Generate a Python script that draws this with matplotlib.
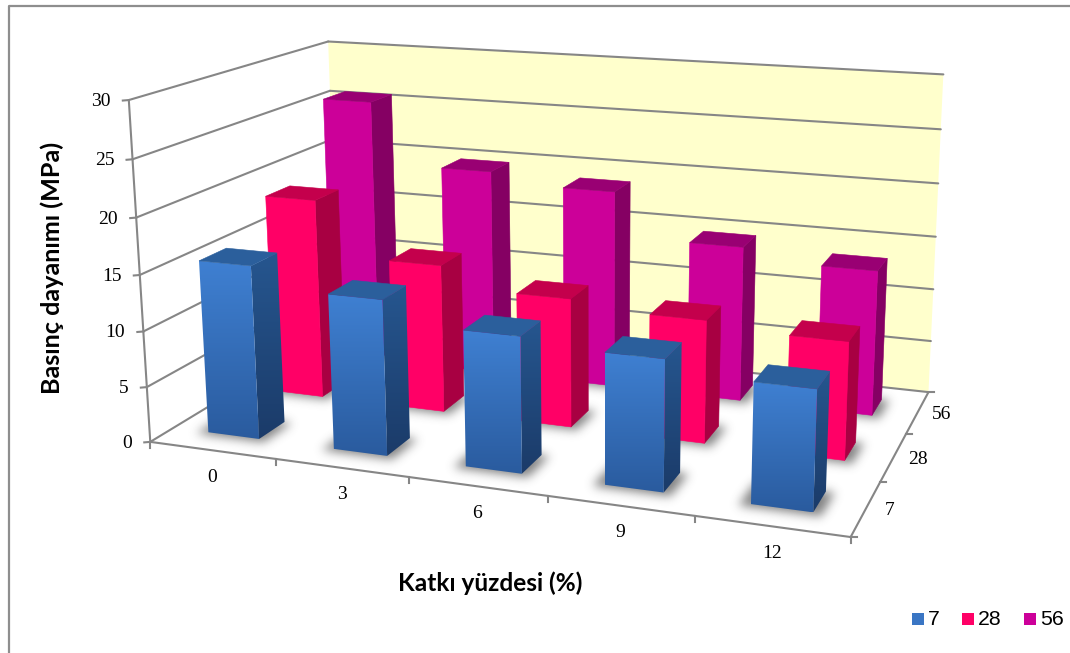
import numpy as np
import matplotlib
matplotlib.use("Agg")
import matplotlib.pyplot as plt
from matplotlib.colors import LinearSegmentedColormap, to_rgb
from matplotlib.patches import Polygon, Rectangle
from matplotlib.path import Path

# Chart data
additive_pct = ["0", "3", "6", "9", "12"]
curing_days = ["7", "28", "56"]
strength_7 = [15.6, 13.8, 11.9, 11.3, 10.2]
strength_28 = [18.7, 13.7, 11.8, 11.1, 10.5]
strength_56 = [25.7, 19.8, 18.8, 14.6, 13.5]
z_ticks = [0, 5, 10, 15, 20, 25, 30]

W, H = 1070, 653
N_X, N_Y, Z_MAX = len(additive_pct), len(curing_days), z_ticks[-1]
BAR_W, BAR_D = 0.41, 0.385
X_CENTRE, Y_CENTRE = 0.49, 0.51

# Perspective camera: solved from where the box corners and axis ticks sit on the canvas
box_world = np.array([
    [0, 0, 0], [1, 0, 0], [2, 0, 0], [3, 0, 0], [4, 0, 0], [5, 0, 0],
    [5, 1, 0], [5, 2, 0], [5, 3, 0], [0, 3, 0],
    [0, 0, 30], [0, 0, 15], [0, 3, 30], [5, 3, 30], [5, 3, 15],
], float)
box_canvas = np.array([
    [150, 443], [276, 461], [408, 478], [548, 497], [695, 516], [849, 534],
    [882, 481], [907, 434], [927, 394], [340, 325],
    [131, 99], [139, 274], [326, 43], [944, 74], [936, 237],
], float)


def solve_camera(world, canvas):
    rows, rhs = [], []
    for (x, y, z), (u, v) in zip(world, canvas):
        rows.append([x, y, z, 1, 0, 0, 0, 0, -u * x, -u * y, -u * z])
        rows.append([0, 0, 0, 0, x, y, z, 1, -v * x, -v * y, -v * z])
        rhs += [u, v]
    sol = np.linalg.lstsq(np.array(rows), np.array(rhs), rcond=None)[0]
    return np.append(sol, 1.0).reshape(3, 4)


CAM = solve_camera(box_world, box_canvas)


def proj(x, y, z):
    h = CAM @ np.array([x, y, z, 1.0])
    return h[0] / h[2], h[1] / h[2]


def quad(*pts):
    return [proj(*p) for p in pts]


fig = plt.figure(figsize=(W / 100, H / 100), dpi=100, facecolor="white")
ax = fig.add_axes([0, 0, 1, 1])
ax.axis("off")

# Chart frame: only its left and top edges fall on the canvas
ax.plot([8.5, 8.5, W], [H, 5.5, 5.5], color="#8E8E8E", lw=1.6, zorder=1)

# Walls and floor
ax.add_patch(Polygon(quad((0, 3, 0), (5, 3, 0), (5, 3, 30), (0, 3, 30)), fc="#FFFFCC", ec="none", zorder=2))
floor = Polygon(quad((0, 0, 0), (5, 0, 0), (5, 3, 0), (0, 3, 0)), fc="white", ec="none", zorder=2)
ax.add_patch(floor)

GRID = "#868686"
SERIF = dict(family="Liberation Serif", fontsize=14, color="black")


def seg(a, b, lw=1.5):
    pa, pb = proj(*a), proj(*b)
    ax.plot([pa[0], pb[0]], [pa[1], pb[1]], color=GRID, lw=lw, zorder=3, solid_capstyle="round")


for z in z_ticks:
    seg((0, 0, z), (0, 3, z))
    seg((0, 3, z), (5, 3, z))
    px, py = proj(0, 0, z)
    ax.plot([px - 6, px], [py + 0.5, py], color=GRID, lw=1.5, zorder=3)
    ax.text(px - 18, py + 1.5, str(z), ha="right", va="center", **SERIF)

seg((0, 0, 0), (0, 0, 30))
seg((0, 0, 0), (5, 0, 0))
seg((5, 0, 0), (5, 3, 0))
for i in range(N_X + 1):
    px, py = proj(i, 0, 0)
    ax.plot([px, px], [py, py + 6], color=GRID, lw=1.5, zorder=3)
for j in range(N_Y + 1):
    px, py = proj(5, j, 0)
    ax.plot([px, px + 6], [py, py], color=GRID, lw=1.5, zorder=3)

for i, lab in enumerate(additive_pct):
    px, py = proj(i + 0.5, 0, 0)
    ax.text(px, py + 27, lab, ha="center", va="center", **SERIF)
for j, lab in enumerate(curing_days):
    px, py = proj(5, j + 0.5, 0)
    ax.text(px + 24, py + 2, lab, ha="center", va="center", **SERIF)


def face(corners, top_col, bot_col, zo):
    """Fill a quad, shading top to bottom when the two colours differ."""
    if top_col == bot_col:
        ax.add_patch(Polygon(corners, fc=top_col, ec=top_col, lw=0.4, zorder=zo))
        return
    pts = np.array(corners)
    grad = LinearSegmentedColormap.from_list("face", [top_col, bot_col])
    img = ax.imshow(np.linspace(0, 1, 128).reshape(-1, 1), cmap=grad, aspect="auto", zorder=zo,
                    extent=(pts[:, 0].min(), pts[:, 0].max(), pts[:, 1].max(), pts[:, 1].min()))
    clip = Polygon(corners, fc="none", ec="none", transform=ax.transData)
    ax.add_patch(clip)
    img.set_clip_path(clip)


def bar(x0, x1, y0, y1, h, style, zo):
    face(quad((x1, y0, h), (x1, y1, h), (x1, y1, 0), (x1, y0, 0)), style["side_t"], style["side_b"], zo)
    face(quad((x0, y0, h), (x1, y0, h), (x1, y0, 0), (x0, y0, 0)), style["front_t"], style["front_b"], zo)
    ax.add_patch(Polygon(quad((x0, y0, h), (x1, y0, h), (x1, y1, h), (x0, y1, h)),
                         fc=style["top"], ec=style["top"], lw=0.4, zorder=zo))


# Soft contact shadows: bar footprints rasterised on the canvas grid, then Gaussian blurred
GRID_X, GRID_Y = np.meshgrid(np.arange(W) + 0.5, np.arange(H) + 0.5)
CANVAS_PTS = np.column_stack([GRID_X.ravel(), GRID_Y.ravel()])
SIGMA = 5.0
KERNEL = np.exp(-0.5 * (np.arange(-15, 16) / SIGMA) ** 2)
KERNEL /= KERNEL.sum()


def row_shadow(footprints, zo):
    mask = np.zeros(H * W, bool)
    for fp in footprints:
        mask |= Path(fp).contains_points(CANVAS_PTS)
    soft = mask.reshape(H, W).astype(float)
    soft = np.apply_along_axis(lambda r: np.convolve(r, KERNEL, mode="same"), 0, soft)
    soft = np.apply_along_axis(lambda r: np.convolve(r, KERNEL, mode="same"), 1, soft)
    rgba = np.zeros((H, W, 4))
    rgba[..., :3] = to_rgb("#404040")
    rgba[..., 3] = soft * 0.66
    img = ax.imshow(rgba, extent=(0, W, H, 0), aspect="auto", zorder=zo, interpolation="nearest")
    img.set_clip_path(floor)


blue = dict(front_t="#3F80D2", front_b="#2A5B9E", side_t="#26568F", side_b="#1B3B69", top="#2B5F9C")
red = dict(front_t="#FF0066", front_b="#FF0066", side_t="#A80042", side_b="#A80042", top="#C4004C")
magenta = dict(front_t="#CC0099", front_b="#CC0099", side_t="#850063", side_b="#850063", top="#990073")

series = [(strength_56, magenta, 2), (strength_28, red, 1), (strength_7, blue, 0)]
zo = 4
for values, style, j in series:
    yc = j + Y_CENTRE
    x0s = [i + X_CENTRE - BAR_W / 2 for i in range(N_X)]
    x1s = [i + X_CENTRE + BAR_W / 2 for i in range(N_X)]
    y0, y1 = yc - BAR_D / 2, yc + BAR_D / 2
    row_shadow([quad((a - 0.07, y0 - 0.05, 0), (b + 0.06, y0 - 0.05, 0), (b + 0.06, y1, 0), (a - 0.07, y1, 0))
                for a, b in zip(x0s, x1s)], zo)
    zo += 1
    # right-hand neighbours are nearer the viewer, so paint left to right
    for a, b, v in zip(x0s, x1s, values):
        bar(a, b, y0, y1, v, style, zo)
        zo += 1

# Axis titles
ax.text(52, 268, "Basınç dayanımı (MPa)", rotation=90, ha="center", va="center",
        family="Lato", weight="bold", fontsize=18.2, color="black")
ax.text(490, 583, "Katkı yüzdesi (%)", ha="center", va="center",
        family="Lato", weight="bold", fontsize=17.6, color="black")

# Legend
entries = [(912, "#3A76C4", curing_days[0]), (962, "#FF0066", curing_days[1]), (1024, "#CC0099", curing_days[2])]
for x, col, lab in entries:
    ax.add_patch(Rectangle((x, 613), 12, 12, fc=col, ec="none", zorder=500))
    ax.text(x + 16, 619.5, lab, ha="left", va="center", family="Liberation Sans", fontsize=15.3, color="black")

ax.set_xlim(0, W)
ax.set_ylim(H, 0)
fig.savefig("out.png", dpi=100, facecolor="white")
